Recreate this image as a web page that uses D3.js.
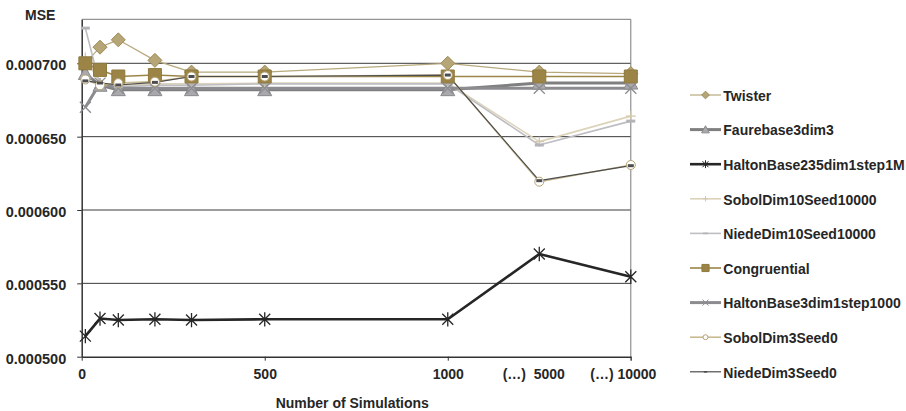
<!DOCTYPE html>
<html>
<head>
<meta charset="utf-8">
<script src="https://cdn.jsdelivr.net/npm/d3@7"></script>
<style>
  body { margin: 0; background: #fff; }
  text { font-family: "Liberation Sans", Arial, sans-serif; font-weight: bold; fill: #262626; }
</style>
</head>
<body>
<div id="chart"></div>
<script>
const width = 906;
const height = 411;
const margin = { top: 19.3, right: 275.2, bottom: 54.3, left: 81.7 };

// ===== DATA =====
const simulations = [10, 50, 100, 200, 300, 500, 1000, 5000, 10000];
const xTicks = [0, 500, 1000, 5000, 10000];
const xTickLabels = ["0", "500", "1000", "(…)  5000", "(…) 10000"];
const yTicks = [0.0005, 0.00055, 0.0006, 0.00065, 0.0007];

const twister      = [0.000700, 0.000711, 0.000716, 0.000702, 0.000694, 0.000694, 0.000700, 0.000694, 0.000693];
const faure        = [0.000693, 0.000685, 0.000682, 0.000682, 0.000682, 0.000682, 0.000682, 0.0006865, 0.0006865];
const halton235    = [0.000514, 0.000526, 0.000525, 0.0005255, 0.000525, 0.0005255, 0.0005255, 0.000570, 0.0005545];
const sobol10      = [0.000704, 0.000686, 0.000685, 0.000686, 0.000686, 0.0006865, 0.0006865, 0.0006466, 0.000664];
const niede10      = [0.000724, 0.000685, 0.000684, 0.000685, 0.000685, 0.000686, 0.000686, 0.0006443, 0.0006606];
const congruential = [0.000700, 0.0006955, 0.000691, 0.000692, 0.000691, 0.000691, 0.000691, 0.000691, 0.000691];
const halton3      = [0.000670, 0.0006865, 0.000683, 0.000683, 0.000683, 0.000683, 0.000683, 0.000683, 0.000683];
const sobol3       = [0.000689, 0.000685, 0.0006865, 0.0006875, 0.000691, 0.000691, 0.000692, 0.0006193, 0.0006307];
const niede3       = [0.000688, 0.0006866, 0.0006852, 0.000687, 0.000691, 0.000691, 0.000692, 0.000620, 0.0006302];

const series = [
  { name: "Twister", values: twister, color: "#b8a97c", width: 1.2, marker: "diamond", mFill: "#b5a577", mStroke: "#9e8b56" },
  { name: "Faurebase3dim3", values: faure, color: "#7f7f7f", width: 3, marker: "triangle", mFill: "#a9a9ad", mStroke: "#8a8a8e" },
  { name: "HaltonBase235dim1step1M", values: halton235, color: "#262626", width: 2.6, marker: "star", mFill: "none", mStroke: "#262626" },
  { name: "SobolDim10Seed10000", values: sobol10, color: "#ddd3bb", width: 1.6, marker: "plus", mFill: "none", mStroke: "#d3c8ad" },
  { name: "NiedeDim10Seed10000", values: niede10, color: "#bdbdc2", width: 1.6, marker: "dash", mFill: "#b3b3b8", mStroke: "none" },
  { name: "Congruential", values: congruential, color: "#9c8647", width: 1.6, marker: "square", mFill: "#9b8446", mStroke: "#8f7a3e" },
  { name: "HaltonBase3dim1step1000", values: halton3, color: "#8c8c90", width: 3, marker: "x", mFill: "none", mStroke: "#8c8c90" },
  { name: "SobolDim3Seed0", values: sobol3, color: "#c9ba92", width: 1.6, marker: "circle", mFill: "#fff", mStroke: "#b4a274" },
  { name: "NiedeDim3Seed0", values: niede3, color: "#4d4d4d", width: 1.2, marker: "smalldash", mFill: "#4d4d4d", mStroke: "none" },
];

// ===== SVG =====
const svg = d3.select("#chart").append("svg")
  .attr("width", width)
  .attr("height", height);

const left = margin.left;
const right = width - margin.right;

// 0..1000 is linear, then 5000 and 10000 are squeezed in as "(…)" steps
const x = d3.scaleLinear()
  .domain([0, 1000, 5000, 10000])
  .range([0, 1000, 1250, 1500].map((u) => left + (u / 1500) * (right - left)));

const y = d3.scaleLinear()
  .domain([0.0005, 0.00073])
  .range([height - margin.bottom, margin.top]);

// ===== GRID / FRAME =====
svg.append("g")
  .selectAll("line")
  .data(yTicks.slice(1))
  .enter()
  .append("line")
  .attr("x1", left)
  .attr("x2", right)
  .attr("y1", (d) => y(d))
  .attr("y2", (d) => y(d))
  .attr("stroke", "#3a3a3a")
  .attr("stroke-width", 1);

svg.append("line")
  .attr("x1", left).attr("x2", right)
  .attr("y1", margin.top).attr("y2", margin.top)
  .attr("stroke", "#7a7a7a");

svg.append("line")
  .attr("x1", right).attr("x2", right)
  .attr("y1", margin.top).attr("y2", y(0.0005) + 4)
  .attr("stroke", "#7a7a7a");

// ===== AXES =====
const yAxis = svg.append("g")
  .attr("transform", `translate(${left},0)`)
  .call(d3.axisLeft(y).tickValues(yTicks).tickFormat(d3.format(".6f")).tickSizeInner(4.5).tickSizeOuter(0).tickPadding(11));
yAxis.select(".domain").attr("stroke", "#333").attr("stroke-width", 1.5);
yAxis.selectAll(".tick line").attr("stroke", "#333");
yAxis.selectAll("text").style("font-size", "14.5px").attr("dy", "0.45em").attr("fill", "#262626");

const xAxis = svg.append("g")
  .attr("transform", `translate(0,${y(0.0005)})`)
  .call(d3.axisBottom(x).tickValues(xTicks).tickFormat((d, i) => xTickLabels[i]).tickSizeInner(4).tickSizeOuter(0));
xAxis.select(".domain").attr("stroke", "#333").attr("stroke-width", 1.5);
xAxis.selectAll(".tick line").attr("stroke", "#333").attr("opacity", (d) => (d === 5000 ? 0 : 1));
xAxis.selectAll("text")
  .style("font-size", "14px")
  .style("white-space", "pre")
  .attr("y", 22.6)
  .attr("dy", 0)
  .attr("dx", (d) => (d === 5000 ? -6 : d === 10000 ? -8 : 0))
  .attr("fill", "#262626");

// axis titles
svg.append("text")
  .attr("x", 25)
  .attr("y", 20)
  .style("font-size", "14px")
  .text("MSE");

svg.append("text")
  .attr("x", (left + right) / 2 - 4)
  .attr("y", 408.3)
  .attr("text-anchor", "middle")
  .style("font-size", "14px")
  .text("Number of Simulations");

// ===== MARKERS =====
function markerPath(type, s) {
  let r;
  switch (type) {
    case "diamond":
      r = 7 * s;
      return `M0,${-r}L${r},0L0,${r}L${-r},0Z`;
    case "square":
      r = 6.5 * s;
      return `M${-r},${-r}H${r}V${r}H${-r}Z`;
    case "triangle":
      r = 7 * s;
      return `M0,${-r}L${r},${r * 0.85}L${-r},${r * 0.85}Z`;
    case "circle":
      r = 4.5 * s;
      return `M${r},0A${r},${r} 0 1,1 ${-r},0A${r},${r} 0 1,1 ${r},0Z`;
    case "x":
      r = 5.5 * s;
      return `M${-r},${-r}L${r},${r}M${-r},${r}L${r},${-r}`;
    case "star":
      r = 5.5 * s;
      return `M${-r},${-r}L${r},${r}M${-r},${r}L${r},${-r}M0,${-r * 1.3}V${r * 1.3}`;
    case "plus":
      r = 5 * s;
      return `M${-r},0H${r}M0,${-r}V${r}`;
    case "dash":
      return `M${-4.5 * s},${-1.5 * s}H${4.5 * s}V${1.5 * s}H${-4.5 * s}Z`;
    case "smalldash":
      return `M${-3 * s},${-1.5 * s}H${3 * s}V${1.5 * s}H${-3 * s}Z`;
  }
}

const line = d3.line()
  .x((d, i) => x(simulations[i]))
  .y((d) => y(d));

// lines first, then markers on top (series order)
svg.append("g")
  .selectAll("path")
  .data(series)
  .enter()
  .append("path")
  .attr("d", (s) => line(s.values))
  .attr("fill", "none")
  .attr("stroke", (s) => s.color)
  .attr("stroke-width", (s) => s.width)
  .attr("stroke-linejoin", "round");

series.forEach((s) => {
  svg.append("g")
    .selectAll("path")
    .data(s.values)
    .enter()
    .append("path")
    .attr("transform", (d, i) => `translate(${x(simulations[i])},${y(d)})`)
    .attr("d", markerPath(s.marker, 1))
    .attr("fill", s.mFill)
    .attr("stroke", s.mStroke)
    .attr("stroke-width", s.mFill === "none" ? 1.3 : 1);
});

// ===== LEGEND =====
const legend = svg.append("g").attr("transform", "translate(690,95)");
const item = legend.selectAll("g")
  .data(series)
  .enter()
  .append("g")
  .attr("transform", (d, i) => `translate(0,${i * 34.6})`);

item.append("line")
  .attr("x1", 0).attr("x2", 31)
  .attr("stroke", (d) => d.color)
  .attr("stroke-width", (d) => d.width);

item.append("path")
  .attr("transform", "translate(15.5,0)")
  .attr("d", (d) => markerPath(d.marker, 0.55))
  .attr("fill", (d) => d.mFill)
  .attr("stroke", (d) => d.mStroke)
  .attr("stroke-width", 1);

item.append("text")
  .attr("x", 33.3)
  .attr("y", 5.7)
  .style("font-size", "14px")
  .text((d) => d.name);
</script>
</body>
</html>
